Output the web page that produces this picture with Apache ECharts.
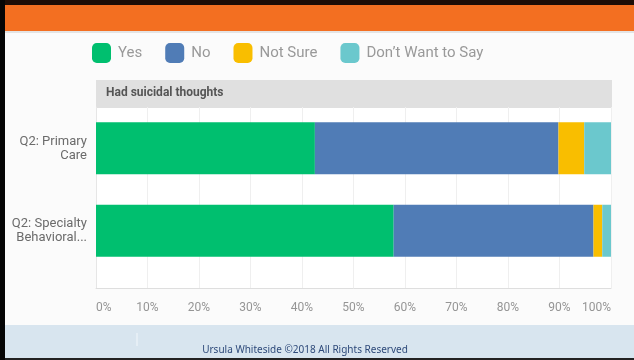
<!DOCTYPE html>
<html>
<head>
<meta charset="utf-8">
<script src="https://cdn.jsdelivr.net/npm/echarts@6/dist/echarts.min.js"></script>
<style>
  html, body { margin: 0; padding: 0; background: #fbfbfb; }
  #chart { width: 634px; height: 360px; }
</style>
</head>
<body>
<div id="chart"></div>
<script>
// ====================== data ======================
var categories = ['Q2: Primary\nCare', 'Q2: Specialty\nBehavioral...'];
var yesData = [42.5, 57.8];
var noData = [47.3, 38.8];
var notSureData = [5.0, 1.7];
var dontWantData = [5.2, 1.7];
var seriesNames = ['Yes', 'No', 'Not Sure', 'Don\u2019t Want to Say'];
var colors = ['#00bf6f', '#507cb6', '#f9be00', '#6bc8cd'];
var percentTicks = [0, 10, 20, 30, 40, 50, 60, 70, 80, 90, 100];

var chart = echarts.init(document.getElementById('chart'));

function barSeries(name, data) {
    return {
        name: name,
        type: 'bar',
        stack: 'total',
        xAxisIndex: 0,
        yAxisIndex: 0,
        barWidth: 52,
        data: data
    };
}

var option = {
    backgroundColor: '#fbfbfb',
    color: colors,
    textStyle: { fontFamily: 'Roboto, sans-serif' },
    legend: {
        left: 92,
        top: 43,
        padding: 0,
        itemWidth: 19,
        itemHeight: 20,
        itemGap: 23,
        icon: 'roundRect',
        textStyle: { fontSize: 15, color: '#999', padding: [0, 0, 0, 2] },
        data: seriesNames
    },
    // decoration: slide borders, header band, footer
    graphic: [
        { type: 'rect', shape: { x: 0, y: 0, width: 634, height: 5 }, style: { fill: '#1e0d06' } },
        { type: 'rect', shape: { x: 0, y: 5, width: 634, height: 26 }, style: { fill: '#f36f21' } },
        { type: 'rect', shape: { x: 0, y: 31, width: 634, height: 2 }, style: { fill: '#e4e4e4' } },
        { type: 'rect', shape: { x: 0, y: 325, width: 634, height: 33 }, style: { fill: '#d8e5ef' } },
        { type: 'rect', shape: { x: 0, y: 358, width: 634, height: 2 }, style: { fill: '#222' } },
        { type: 'rect', shape: { x: 0, y: 0, width: 5, height: 360 }, style: { fill: '#050505' } },
        { type: 'line', shape: { x1: 137, y1: 333, x2: 137, y2: 346 }, style: { stroke: '#f2f7fb', lineWidth: 1 } },
        {
            type: 'text', x: 305, y: 350,
            style: {
                text: 'Ursula Whiteside \u00a92018 All Rights Reserved',
                fill: '#2e4a7a', font: '10px "Noto Sans", sans-serif',
                align: 'center', verticalAlign: 'middle'
            }
        },
        { type: 'rect', shape: { x: 96, y: 80, width: 516, height: 28 }, style: { fill: '#e0e0e0' } },
        {
            type: 'text', x: 106, y: 93,
            style: {
                text: 'Had suicidal thoughts',
                fill: '#555', font: 'bold 12px Roboto, sans-serif',
                verticalAlign: 'middle'
            }
        }
    ],
    grid: [
        { left: 96, right: 23, top: 107, height: 165, show: true, backgroundColor: '#fff', borderWidth: 0 },
        { left: 96, right: 23, top: 272, height: 16, show: true, backgroundColor: '#fff', borderWidth: 0 }
    ],
    xAxis: [{
        type: 'value',
        gridIndex: 0,
        min: 0,
        max: 100,
        interval: 10,
        axisLine: { show: false },
        axisTick: { show: false },
        axisLabel: { show: false },
        splitLine: { lineStyle: { color: '#efefef' } }
    }, {
        type: 'value',
        gridIndex: 1,
        min: 0,
        max: 100,
        interval: 10,
        axisLine: { show: true, lineStyle: { color: '#dedede' } },
        axisTick: { show: false },
        axisLabel: {
            margin: 14,
            fontSize: 12,
            color: '#959595',
            alignMinLabel: 'left',
            alignMaxLabel: 'right',
            formatter: function (v) {
                return percentTicks.indexOf(v) >= 0 ? v + '%' : '';
            }
        },
        splitLine: { lineStyle: { color: '#efefef' } }
    }],
    yAxis: [{
        type: 'category',
        gridIndex: 0,
        inverse: true,
        data: categories,
        axisLine: { show: true, lineStyle: { color: '#e6e6e6' } },
        axisTick: { show: false },
        axisLabel: { margin: 9, fontSize: 13, color: '#6b6b6b', lineHeight: 14, align: 'right' }
    }, {
        type: 'category',
        gridIndex: 1,
        data: [''],
        axisLine: { show: true, lineStyle: { color: '#e6e6e6' } },
        axisTick: { show: false },
        axisLabel: { show: false }
    }],
    series: [
        barSeries(seriesNames[0], yesData),
        barSeries(seriesNames[1], noData),
        barSeries(seriesNames[2], notSureData),
        barSeries(seriesNames[3], dontWantData)
    ]
};

chart.setOption(option);
</script>
</body>
</html>
